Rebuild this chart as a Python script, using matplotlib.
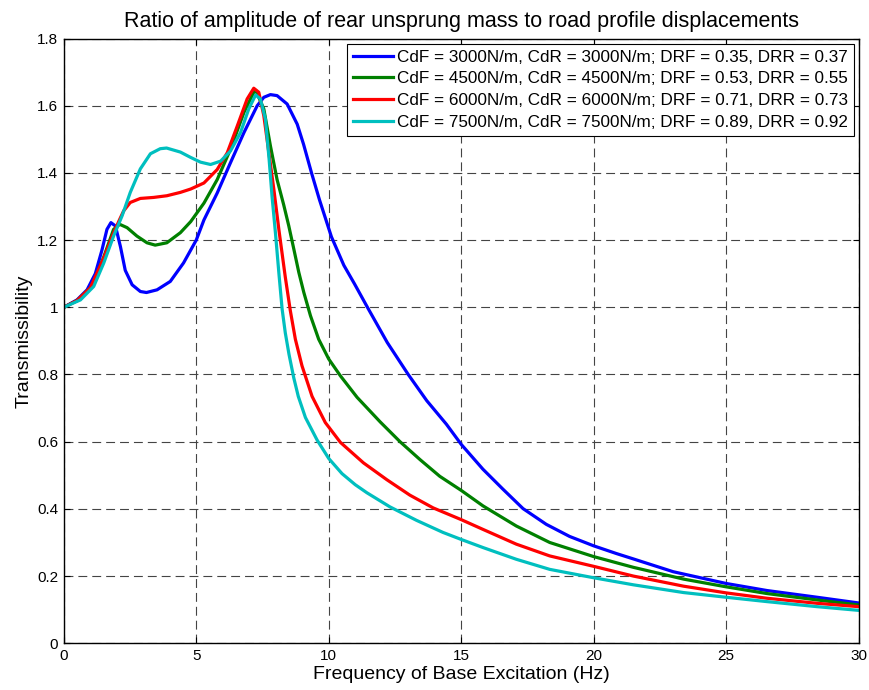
import matplotlib
matplotlib.use("Agg")
import matplotlib.pyplot as plt

plt.rcParams['font.family'] = ['Liberation Sans', 'DejaVu Sans']

# curves: frequency (Hz), transmissibility
f_blue = [0, 0.5, 0.88, 1.19, 1.44, 1.63, 1.78, 1.95, 2.14, 2.32, 2.58, 2.89, 3.12, 3.52,
          4.02, 4.52, 5.0, 5.29, 5.79, 6.29, 6.8, 7.3, 7.55, 7.8, 8.05, 8.43, 8.81, 9.05,
          9.35, 9.65, 10.1, 10.57, 10.97, 11.46, 12.21, 13.0, 13.7, 14.44, 15.0, 15.82, 16.57,
          17.33, 18.21, 19.09, 20.0, 20.86, 21.5, 23.0, 25.0, 26.54, 28.43, 30.0]
t_blue = [1.0, 1.022, 1.052, 1.10, 1.17, 1.232, 1.252, 1.242, 1.18, 1.11, 1.067, 1.047, 1.044, 1.052,
          1.077, 1.132, 1.2, 1.26, 1.34, 1.43, 1.52, 1.60, 1.625, 1.633, 1.63, 1.605, 1.545, 1.485,
          1.40, 1.32, 1.21, 1.125, 1.07, 1.0, 0.895, 0.80, 0.722, 0.652, 0.592, 0.518, 0.459,
          0.401, 0.354, 0.318, 0.29, 0.267, 0.251, 0.213, 0.178, 0.157, 0.137, 0.12]

f_green = [0, 0.5, 1.0, 1.13, 1.51, 1.88, 2.11, 2.39, 2.76, 3.14, 3.45, 3.89, 4.4, 4.79,
           5.29, 5.79, 6.29, 6.8, 7.17, 7.25, 7.55, 7.8, 8.05, 8.3, 8.49, 8.68, 8.87, 9.06,
           9.31, 9.62, 10.0, 10.44, 11.07, 11.94, 12.69, 13.44, 14.19, 15.0, 15.82, 17.08,
           18.34, 20.0, 21.5, 23.39, 25.0, 26.54, 28.43, 30.0]
t_green = [1.0, 1.02, 1.058, 1.075, 1.15, 1.232, 1.247, 1.237, 1.212, 1.192, 1.185, 1.192, 1.222, 1.255,
           1.31, 1.38, 1.47, 1.58, 1.64, 1.645, 1.59, 1.48, 1.38, 1.305, 1.243, 1.174, 1.104, 1.044,
           0.975, 0.905, 0.846, 0.796, 0.732, 0.659, 0.600, 0.547, 0.497, 0.455, 0.409, 0.349,
           0.30, 0.258, 0.226, 0.191, 0.168, 0.148, 0.129, 0.114]

f_red = [0, 0.5, 1.0, 1.5, 1.9, 2.1, 2.26, 2.51, 2.89, 3.39, 3.89, 4.4, 4.79, 5.29, 5.79,
         6.17, 6.55, 6.92, 7.17, 7.36, 7.55, 7.74, 7.93, 8.12, 8.36, 8.55, 8.74, 8.99, 9.37,
         9.87, 10.44, 11.31, 12.19, 13.06, 13.94, 15.0, 15.82, 17.08, 18.34, 20.0, 21.5,
         23.39, 25.0, 26.54, 28.43, 30.0]
t_red = [1.0, 1.02, 1.058, 1.145, 1.225, 1.26, 1.287, 1.312, 1.324, 1.327, 1.332, 1.342, 1.352, 1.37, 1.41,
         1.46, 1.54, 1.62, 1.652, 1.64, 1.57, 1.46, 1.35, 1.23, 1.09, 0.99, 0.905, 0.826, 0.735,
         0.657, 0.598, 0.537, 0.487, 0.441, 0.403, 0.368, 0.339, 0.295, 0.26, 0.229, 0.20,
         0.17, 0.15, 0.134, 0.119, 0.109]

f_cyan = [0, 0.63, 1.13, 1.51, 1.88, 2.2, 2.51, 2.89, 3.27, 3.64, 3.88, 4.4, 4.79, 5.16,
          5.54, 5.92, 6.29, 6.67, 6.98, 7.24, 7.42, 7.61, 7.75, 7.86, 7.99, 8.12, 8.24, 8.36,
          8.5, 8.68, 8.85, 9.12, 9.56, 10.0, 10.5, 11.0, 11.44, 12.31, 13.31, 14.31, 15.0, 15.82,
          17.08, 18.34, 20.0, 21.5, 23.39, 25.0, 26.54, 28.43, 30.0]
t_cyan = [1.0, 1.022, 1.062, 1.132, 1.212, 1.272, 1.342, 1.412, 1.457, 1.472, 1.474, 1.462, 1.446, 1.432,
          1.425, 1.435, 1.465, 1.52, 1.59, 1.632, 1.62, 1.56, 1.44, 1.33, 1.22, 1.10, 0.995, 0.924,
          0.86, 0.79, 0.735, 0.672, 0.605, 0.55, 0.505, 0.472, 0.448, 0.406, 0.366, 0.33, 0.309, 0.285,
          0.25, 0.22, 0.195, 0.174, 0.151, 0.137, 0.124, 0.109, 0.098]

labels = ['CdF = 3000N/m, CdR = 3000N/m; DRF = 0.35, DRR = 0.37',
          'CdF = 4500N/m, CdR = 4500N/m; DRF = 0.53, DRR = 0.55',
          'CdF = 6000N/m, CdR = 6000N/m; DRF = 0.71, DRR = 0.73',
          'CdF = 7500N/m, CdR = 7500N/m; DRF = 0.89, DRR = 0.92']
colors = ['#0000ff', '#008000', '#ff0000', '#00bfbf']

xticks = [0, 5, 10, 15, 20, 25, 30]
yticks = [0, 0.2, 0.4, 0.6, 0.8, 1.0, 1.2, 1.4, 1.6, 1.8]
yticklabels = ['0', '0.2', '0.4', '0.6', '0.8', '1', '1.2', '1.4', '1.6', '1.8']

fig = plt.figure(figsize=(8.7, 6.9), dpi=100)
ax = fig.add_axes([0.0733, 0.0677, 0.9137, 0.8765])

series = [(f_blue, t_blue), (f_green, t_green), (f_red, t_red), (f_cyan, t_cyan)]
for (f, t), lab, col in zip(series, labels, colors):
    ax.plot(f, t, color=col, lw=2.3, label=lab, solid_joinstyle='round')

ax.set_xlim(0, 30)
ax.set_ylim(0, 1.8)
ax.set_xticks(xticks)
ax.set_yticks(yticks)
ax.set_yticklabels(yticklabels)
ax.tick_params(direction='in', top=True, right=True, labelsize=11, length=4, pad=4)
ax.grid(True, color='#444444', linestyle=(0, (8, 4.5)), lw=0.8)
for s in ax.spines.values():
    s.set_linewidth(1.0)

ax.set_title('Ratio of amplitude of rear unsprung mass to road profile displacements',
             fontsize=15.5, pad=8)
ax.set_xlabel('Frequency of Base Excitation (Hz)', fontsize=14, labelpad=2)
ax.set_ylabel('Transmissibility', fontsize=14, labelpad=3)

leg = ax.legend(loc='upper right', fontsize=12.3, fancybox=False, framealpha=1,
                edgecolor='black', handlelength=2.35, handletextpad=0.2,
                borderpad=0.35, labelspacing=0.4, borderaxespad=0.3)
leg.get_frame().set_linewidth(0.8)

fig.savefig('out.png', dpi=100)
